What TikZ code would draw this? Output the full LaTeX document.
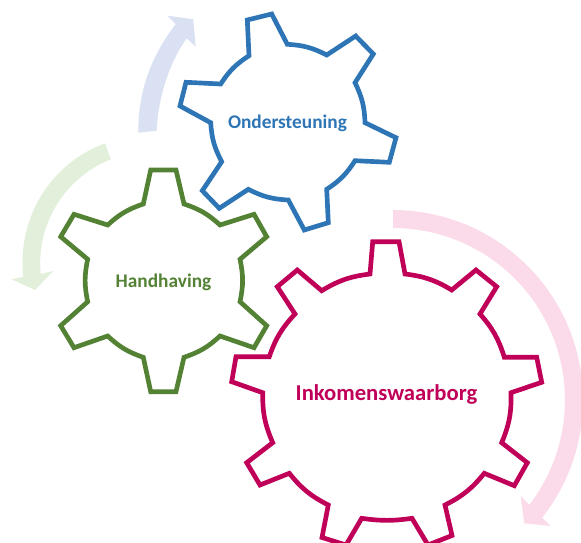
\documentclass[tikz,border=0pt]{standalone}
\usepackage{fontspec}
\setmainfont{Carlito}
\definecolor{cblue}{HTML}{2E75B6}
\definecolor{cgreen}{HTML}{548235}
\definecolor{cred}{HTML}{C00058}
\definecolor{ablue}{HTML}{D9E1F2}
\definecolor{agreen}{HTML}{E2EFDA}
\definecolor{ared}{HTML}{FBDAEA}
\tikzset{
  gearline/.style={line width=3.5pt,line join=miter,miter limit=3},
  geartext/.style={font=\bfseries\fontsize{14.5}{17}\selectfont,inner sep=0pt},
  arc1/.style={bend left=12},
}
\begin{document}
\begin{tikzpicture}[x=0.75pt,y=-0.75pt]
\useasboundingbox (0,0) rectangle (581,542);
\clip (0,0) rectangle (581,542);
% arrows
\fill[ablue] (138.3,132.7) .. controls (138,90) and (152,55) .. (175.7,24) -- (167.3,15.7) -- (193.3,19.3) -- (195.7,46.7) -- (186.7,38.3) .. controls (169,63) and (158,98) .. (156.7,130.7) -- cycle;
\fill[agreen] (105,143.3) -- (110.7,159.3) .. controls (64,178) and (36,225) .. (40.7,274) -- (53.3,271) -- (35,290) -- (11.7,279.3) -- (23.3,276.7) .. controls (17,222) and (47,165) .. (105,143.3) -- cycle;
\fill[ared] plot[domain=-90:38.3,samples=60] ({393+190*cos(\x)},{400+190*sin(\x)}) -- (550.7,526) -- (524.3,523.3) -- (520.7,496) -- (529.3,505) -- plot[domain=38:-90,samples=60] ({393+172*cos(\x)},{400+172*sin(\x)}) -- cycle;
% gears
\draw[gearline,cblue] (247.3,20) -- (271.7,14) -- (287.3,44.3) to[arc1] (326.7,55) -- (355.7,36) -- (373.3,54) -- (355,82.7) to[arc1] (365,122.7) -- (396,137.7) -- (389.3,162.3) -- (355,160.7) to[arc1] (326.7,189.3) -- (328.3,222.7) -- (304.3,230) -- (288.3,200) to[arc1] (248.3,189.3) -- (219.3,208.3) -- (202.3,190.7) -- (221.7,161.7) to[arc1] (210.7,122.7) -- (180,106) -- (186,82.3) -- (220.7,84) to[arc1] (249,55.7) -- cycle;
\draw[gearline,cgreen] (150.7,170) -- (176,170) -- (184,204) to[arc1] (220,225) -- (254,214.3) -- (266.7,236.7) -- (240,259.3) to[arc1] (240,301.7) -- (266.7,325.7) -- (254,347.7) -- (220,336) to[arc1] (184,357.3) -- (176,391.7) -- (150.7,391.7) -- (143.3,357.3) to[arc1] (107.7,336) -- (74,347.7) -- (60.7,325.7) -- (87.7,301.7) to[arc1] (87.7,259.3) -- (60.7,236.7) -- (74,214.3) -- (107.7,225) to[arc1] (143.3,204) -- cycle;
\draw[gearline,cred] (372.7,241.7) -- (399,241.7) -- (405,274) to[arc1] (451.7,290) -- (476,270) -- (496.7,286.7) -- (480,314) to[arc1] (504.3,357.3) -- (536.7,357.3) -- (541.7,382.3) -- (511,392.7) to[arc1] (501.7,442.7) -- (527.3,462.7) -- (514.3,485.7) -- (484.3,473.3) to[arc1] (445,505) -- (452,535.5) -- (428,545) -- (412,518.3) to[bend left=8] (361.7,518.3) -- (346,545) -- (322,537.5) -- (328.3,505) to[arc1] (289.3,473.3) -- (260,485) -- (246.7,462.7) -- (272.7,442.7) to[arc1] (262.7,392.7) -- (231.7,381.7) -- (236,356.7) -- (269.3,356.7) to[arc1] (295,314) -- (277.3,286.7) -- (297.3,270) -- (321.7,290.7) to[arc1] (370,274) -- cycle;
% labels
\node[geartext,text=cblue] (ond) at (287.5,123) {Ondersteuning};
\node[geartext,text=cgreen] (han) at (163.5,282) {Handhaving};
\node[geartext,text=cred,font=\bfseries\fontsize{17}{20}\selectfont] (ink) at (386.5,394.5) {Inkomenswaarborg};
\end{tikzpicture}
\end{document}
